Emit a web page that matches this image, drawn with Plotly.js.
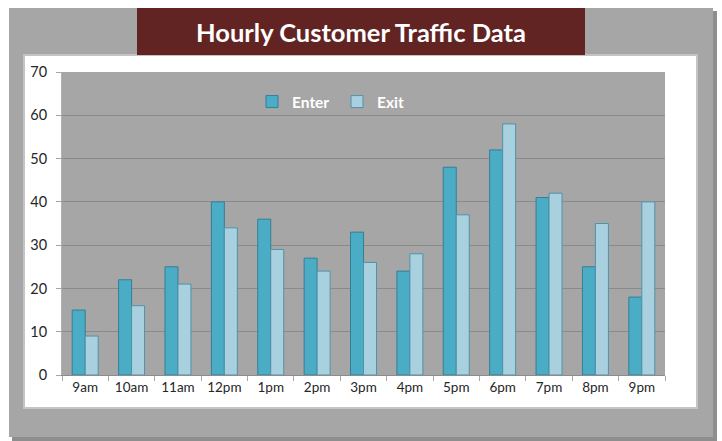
<!DOCTYPE html>
<html>
<head>
<meta charset="utf-8">
<script src="https://cdn.plot.ly/plotly-3.0.1.min.js"></script>
<style>html,body{margin:0;padding:0;background:#fff;}#chart{width:722px;height:441px;}</style>
</head>
<body>
<div id="chart"></div>
<script>
const hours = ["9am","10am","11am","12pm","1pm","2pm","3pm","4pm","5pm","6pm","7pm","8pm","9pm"];
const enterValues = [15,22,25,40,36,27,33,24,48,52,41,25,18];
const exitValues = [9,16,21,34,29,24,26,28,37,58,42,35,40];
const yTicks = [0,10,20,30,40,50,60,70];

const W = 722, H = 441;
const L = 62, R = 665, T = 72, B = 375;
const px = X => (X - L) / (R - L);
const py = Y => (B - Y) / (B - T);
function rect(x0, y0, x1, y1, fill, line) {
  return {type:'rect', xref:'paper', yref:'paper', layer:'below',
    x0:px(x0), x1:px(x1), y0:py(y1), y1:py(y0), fillcolor:fill,
    line: line || {width:0}};
}

const traces = [
  {type:'bar', name:'Enter', x:hours, y:enterValues,
   marker:{color:'#4bacc6', line:{color:'#357f94', width:1}}},
  {type:'bar', name:'Exit', x:hours, y:exitValues,
   marker:{color:'#a9d0df', line:{color:'#4f93a8', width:1}}}
];

const layout = {
  width:W, height:H,
  margin:{l:L, r:W-R, t:T, b:H-B, pad:0},
  paper_bgcolor:'#ffffff',
  plot_bgcolor:'rgba(0,0,0,0)',
  barmode:'group', bargap:0.44, bargroupgap:0,
  font:{family:'Lato, "Open Sans", sans-serif', color:'#262626'},
  showlegend:true,
  legend:{orientation:'h', x:px(252), y:py(102), xanchor:'left', yanchor:'middle',
    bgcolor:'rgba(0,0,0,0)', font:{color:'#ffffff', size:15.5, family:'Lato, sans-serif', weight:'bold'},
    itemwidth:30, entrywidth:40, traceorder:'normal'},
  xaxis:{type:'category', tickson:'boundaries', ticks:'outside', ticklen:5, tickcolor:'#a6a6a6',
    showline:true, linecolor:'#8c8c8c', linewidth:1, showgrid:false,
    tickfont:{size:13.5, color:'#262626'}, fixedrange:true},
  yaxis:{range:[0,70], tickvals:yTicks, ticks:'outside', ticklen:5, tickcolor:'#a6a6a6',
    showline:true, linecolor:'#b0b0b0', linewidth:1,
    showgrid:true, gridcolor:'#8a8a8a', gridwidth:1, zeroline:false,
    tickfont:{size:14.5, color:'#262626'}, ticklabelstandoff:6, fixedrange:true},
  shapes:[
    rect(12, 11, 717, 441, '#8e8e8e'),
    rect(9, 8, 713, 437, '#a6a6a6'),
    rect(24, 55, 697, 408, '#ffffff', {color:'#c4c4c4', width:2}),
    rect(137, 8, 585, 55, '#622423'),
    rect(L, T, R, B, '#a6a6a6')
  ],
  annotations:[
    {xref:'paper', yref:'paper', x:px(361), y:py(32), xanchor:'center', yanchor:'middle',
     text:'Hourly Customer Traffic Data', showarrow:false,
     font:{family:'Lato, "Open Sans", sans-serif', size:25.5, color:'#ffffff', weight:'bold'}}
  ]
};

Plotly.newPlot('chart', traces, layout, {displayModeBar:false, staticPlot:true});
</script>
</body>
</html>
